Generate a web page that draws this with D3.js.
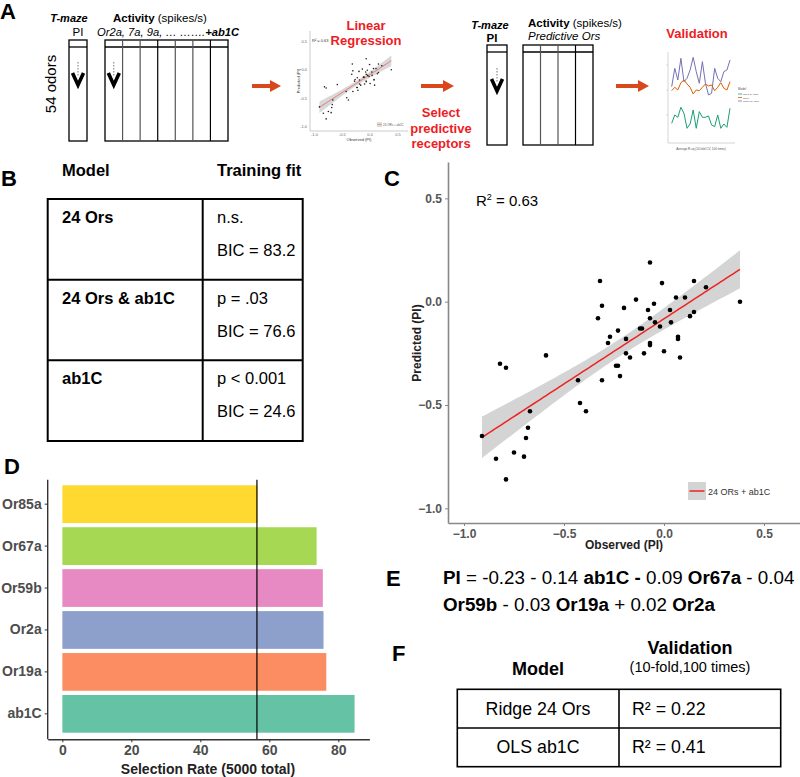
<!DOCTYPE html>
<html><head><meta charset="utf-8">
<script src="https://cdn.jsdelivr.net/npm/d3@7"></script>
<style>body{margin:0;background:#fff}svg{display:block}text{font-family:"Liberation Sans",Arial,sans-serif}</style>
</head><body><svg id="fig" width="800" height="777"></svg>
<script>
// ---------- DATA ----------
const observed  = [-0.32,-0.31,-0.33,-0.23,-0.27,-0.28,-0.59,-0.07,-0.01,0.15,0.21,-0.14,0.06,0.105,-0.05,-0.20,-0.08,0.03,0.15,0.38,-0.07,0.13,-0.045,0.035,-0.12,-0.11,-0.02,-0.19,0.07,0.07,-0.07,-0.07,-0.19,0.00,-0.10,-0.17,0.08,-0.82,-0.79,-0.24,-0.23,-0.22,-0.43,-0.31,-0.42,-0.39,-0.67,-0.68,-0.91,-0.69,-0.84,-0.75,-0.70,-0.79];
const predicted = [0.10,-0.02,-0.08,-0.14,-0.17,-0.20,-0.26,0.19,0.09,0.10,0.07,0.01,0.02,0.02,-0.01,-0.03,-0.04,-0.04,-0.05,0.00,-0.08,-0.07,-0.10,-0.10,-0.13,-0.13,-0.12,-0.18,-0.17,-0.18,-0.20,-0.21,-0.25,-0.24,-0.25,-0.27,-0.27,-0.30,-0.32,-0.31,-0.31,-0.36,-0.38,-0.38,-0.49,-0.53,-0.53,-0.61,-0.65,-0.66,-0.76,-0.73,-0.75,-0.86];
const scatterTicks = [-1.0,-0.5,0.0,0.5];
const r2Label = "0.63";
const legendLabel = "24 ORs + ab1C";

const rateCategories = ["ab1C","Or19a","Or2a","Or59b","Or67a","Or85a"];
const rateValues = [84.7,76.5,75.7,75.5,73.7,56.6];
const rateColors = ["#66c2a5","#fc8d62","#8da0cb","#e78ac3","#a6d854","#ffd92f"];
const rateThreshold = 56.4;
const rateTicks = [0,20,40,60,80];

const tableBModels = ["24 Ors","24 Ors & ab1C","ab1C"];
const tableBFit = ["n.s.","p = .03","p < 0.001"];
const tableBBIC = ["BIC = 83.2","BIC = 76.6","BIC = 24.6"];

const tableFModels = ["Ridge 24 Ors","OLS ab1C"];
const tableFR2 = ["R\u00B2 = 0.22","R\u00B2 = 0.41"];

const valPurple = [1.40,1.95,1.60,2.25,1.55,1.65,1.90,2.28,1.85,1.50,2.15,1.50,1.15,1.20,1.95,1.65,1.55,1.85,1.90,2.20];
const valOrange = [1.28,1.38,1.30,1.52,1.60,1.48,1.38,1.18,1.30,1.28,1.38,1.48,1.42,1.45,1.28,1.38,1.52,1.35,1.30,1.55];
const valGreen  = [0.30,0.55,0.48,0.78,0.60,0.15,0.28,0.70,0.15,0.65,0.48,0.48,0.52,0.25,0.20,0.55,0.15,0.28,0.18,0.75];
const valColors = ["#7570b3","#d95f02","#1b9e77"];

const activityCols1 = 7, activityCols2 = 4;

// ---------- SETUP ----------
const svg = d3.select("#fig");
const FONT = '"Liberation Sans",Arial,sans-serif';
const RED = "#ee1c25", ARROW = "#d9481c";
const pts = observed.map((x,i)=>({x, y: predicted[i]}));

function txt(g, x, y, s, o={}) {
  const t = g.append("text").attr("x",x).attr("y",y).text(s)
    .attr("font-size", o.size||12).attr("font-weight", o.weight||"normal")
    .attr("fill", o.fill||"#000").attr("text-anchor", o.anchor||"start");
  if (o.style) t.attr("font-style", o.style);
  return t;
}
function rich(g, x, y, parts, size, anchor) {
  const t = g.append("text").attr("x",x).attr("y",y).attr("font-size",size).attr("text-anchor",anchor||"start").attr("xml:space","preserve");
  parts.forEach(p => t.append("tspan").text(p[0]).attr("font-weight", p[1].includes("b")?"bold":"normal").attr("font-style", p[1].includes("i")?"italic":"normal"));
  return t;
}
function arrow(g, x0, x1, y) {
  g.append("line").attr("x1",x0).attr("x2",x1-9).attr("y1",y).attr("y2",y).attr("stroke",ARROW).attr("stroke-width",4);
  g.append("path").attr("d",`M${x1-11},${y-6}L${x1},${y}L${x1-11},${y+6}Z`).attr("fill",ARROW);
}
function chevron(g, cx, top) {
  g.append("line").attr("x1",cx).attr("x2",cx).attr("y1",top).attr("y2",top+15).attr("stroke","#777").attr("stroke-width",1).attr("stroke-dasharray","1.5,1.5");
  g.append("path").attr("d",`M${cx-5.5},${top+11}L${cx},${top+23}L${cx+5.5},${top+11}`).attr("fill","none").attr("stroke","#000").attr("stroke-width",3.6);
}

// ---------- REGRESSION (OLS + 95% CI) ----------
const n = pts.length;
const mx = d3.mean(observed), my = d3.mean(predicted);
const sxx = d3.sum(observed, x => (x-mx)**2);
const sxy = d3.sum(pts, p => (p.x-mx)*(p.y-my));
const slope = sxy/sxx, icpt = my - slope*mx;
const sres = Math.sqrt(d3.sum(pts, p => (p.y - icpt - slope*p.x)**2)/(n-2));
const tval = 2.0066;
const [xmin, xmax] = d3.extent(observed);
const band = d3.range(0, 81).map(i => {
  const x = xmin + (xmax-xmin)*i/80;
  const f = icpt + slope*x;
  const se = sres*Math.sqrt(1/n + (x-mx)**2/sxx);
  return {x, f, lo: f - tval*se, hi: f + tval*se};
});

// ---------- PANEL A ----------
const A = svg.append("g");
txt(A, 0, 19, "A", {size:22, weight:"bold"});
txt(A, 69, 22, "T-maze", {size:11, weight:"bold", style:"italic", anchor:"middle"});
txt(A, 78, 36, "PI", {size:11.5, anchor:"middle"});
rich(A, 113, 22, [["Activity","b"],[" (spikes/s)",""]], 11.5);
rich(A, 97, 36, [["Or2a, 7a, 9a, \u2026 \u2026\u2026.","i"],["+ab1C","bi"]], 11.2);
A.append("text").attr("transform","translate(56,84) rotate(-90)").attr("text-anchor","middle").attr("font-size",15).text("54 odors");

function columns(g, x0, x1, nc, top, head, bottom) {
  const xs = d3.scaleLinear().domain([0,nc]).range([x0,x1]);
  g.append("rect").attr("x",x0).attr("y",top).attr("width",x1-x0).attr("height",bottom-top).attr("fill","none").attr("stroke","#000").attr("stroke-width",1.3);
  g.append("line").attr("x1",x0).attr("x2",x1).attr("y1",head).attr("y2",head).attr("stroke","#000").attr("stroke-width",1.3);
  d3.range(1,nc).forEach(i => g.append("line").attr("x1",xs(i)).attr("x2",xs(i)).attr("y1",top).attr("y2",bottom).attr("stroke", i%3===0?"#000":"#555").attr("stroke-width",1.2));
  return xs;
}
columns(A, 69, 87, 1, 40, 47, 141);
const xs1 = columns(A, 105, 228, activityCols1, 40, 47, 141);
chevron(A, 78, 62);
chevron(A, xs1(0.5), 62);
arrow(A, 252, 281, 86);

// mini scatter
const mx0 = d3.scaleLinear().domain([-1.08,0.68]).range([310,408]);
const my0 = d3.scaleLinear().domain([0.676,-1.071]).range([31,131]);
A.append("path").datum(band).attr("fill","#d8d8d8").attr("d", d3.area().x(d=>mx0(d.x)).y0(d=>my0(d.lo)).y1(d=>my0(d.hi)));
A.append("path").datum(band).attr("fill","none").attr("stroke","#e87070").attr("stroke-width",1).attr("d", d3.line().x(d=>mx0(d.x)).y(d=>my0(d.f)));
A.selectAll(".mp").data(pts).join("circle").attr("cx",d=>mx0(d.x)).attr("cy",d=>my0(d.y)).attr("r",0.8).attr("fill","#222");
A.append("line").attr("x1",mx0.range()[0]).attr("x2",mx0.range()[0]).attr("y1",31).attr("y2",131).attr("stroke","#aaa").attr("stroke-width",0.6);
A.append("line").attr("x1",mx0.range()[0]).attr("x2",408).attr("y1",131).attr("y2",131).attr("stroke","#aaa").attr("stroke-width",0.6);
scatterTicks.forEach(t => {
  txt(A, 307, my0(t)+1.5, t.toFixed(1), {size:4, anchor:"end", fill:"#666"});
  txt(A, mx0(t), 136, t.toFixed(1), {size:4, anchor:"middle", fill:"#666"});
});
txt(A, 312, 42, "R\u00B2 = " + r2Label, {size:4, fill:"#333"});
txt(A, 359, 141, "Observed (PI)", {size:4, anchor:"middle", fill:"#333"});
A.append("text").attr("transform","translate(300,81) rotate(-90)").attr("text-anchor","middle").attr("font-size",4).attr("fill","#333").text("Predicted (PI)");
A.append("rect").attr("x",377).attr("y",122).attr("width",5).attr("height",5).attr("fill","#ddd");
A.append("line").attr("x1",377).attr("x2",382).attr("y1",124.5).attr("y2",124.5).attr("stroke","#e87070").attr("stroke-width",0.6);
txt(A, 383, 126, legendLabel, {size:3, fill:"#555"});
txt(A, 366, 30, "Linear", {size:13, weight:"bold", fill:RED, anchor:"middle"});
txt(A, 366, 45, "Regression", {size:13, weight:"bold", fill:RED, anchor:"middle"});

arrow(A, 421, 454, 86);
txt(A, 441, 117, "Select", {size:13, weight:"bold", fill:RED, anchor:"middle"});
txt(A, 441, 132.5, "predictive", {size:13, weight:"bold", fill:RED, anchor:"middle"});
txt(A, 441, 148, "receptors", {size:13, weight:"bold", fill:RED, anchor:"middle"});

txt(A, 490, 29, "T-maze", {size:11, weight:"bold", style:"italic", anchor:"middle"});
txt(A, 492, 42, "PI", {size:11.5, weight:"bold", anchor:"middle"});
columns(A, 487, 507, 1, 45, 52, 145);
chevron(A, 497, 68);
rich(A, 528, 27, [["Activity","b"],[" (spikes/s)",""]], 11.5);
rich(A, 528, 40, [["Predictive Ors","i"]], 11.5);
columns(A, 523, 593, activityCols2, 45, 52, 145);

arrow(A, 616, 649, 86);
txt(A, 697, 38, "Validation", {size:13, weight:"bold", fill:RED, anchor:"middle"});
// mini validation chart
const vx = d3.scaleLinear().domain([0, valPurple.length-1]).range([671.7, 730]);
const vy = d3.scaleLinear().domain([0,4]).range([133.3, 0]);
A.append("line").attr("x1",668).attr("x2",668).attr("y1",52).attr("y2",143).attr("stroke","#bbb").attr("stroke-width",0.6);
A.append("line").attr("x1",668).attr("x2",735).attr("y1",143).attr("y2",143).attr("stroke","#bbb").attr("stroke-width",0.6);
[valPurple, valOrange, valGreen].forEach((s,k) => {
  A.append("path").datum(s).attr("fill","none").attr("stroke",valColors[k]).attr("stroke-width",1)
    .attr("d", d3.line().x((d,i)=>vx(i)).y(d=>vy(d)));
});
[2,1,0].forEach(t => A.append("line").attr("x1",666).attr("x2",668).attr("y1",vy(t*0.75+0.55)).attr("y2",vy(t*0.75+0.55)).attr("stroke","#bbb").attr("stroke-width",0.5));
txt(A, 738, 90, "Model", {size:3, fill:"#555"});
["ab1C 24 ORs","ab1C","Ridge 24 ORs"].forEach((s,k) => {
  A.append("line").attr("x1",738).attr("x2",742).attr("y1",94+k*3.5).attr("y2",94+k*3.5).attr("stroke",valColors[2-k]).attr("stroke-width",0.8);
  txt(A, 743, 95+k*3.5, s, {size:2.5, fill:"#555"});
});
txt(A, 701, 150, "Average R-sq (10-fold CV, 100 times)", {size:3, anchor:"middle", fill:"#555"});

// ---------- PANEL B ----------
const B = svg.append("g");
txt(B, 1, 186, "B", {size:22, weight:"bold"});
txt(B, 62, 176, "Model", {size:16.5, weight:"bold"});
txt(B, 217, 176, "Training fit", {size:16.5, weight:"bold"});
const rowY = d3.scaleLinear().domain([0,3]).range([199,441]);
B.append("rect").attr("x",47.7).attr("y",199).attr("width",255).attr("height",242).attr("fill","none").attr("stroke","#000").attr("stroke-width",2);
B.append("line").attr("x1",202.7).attr("x2",202.7).attr("y1",199).attr("y2",441).attr("stroke","#000").attr("stroke-width",2);
[1,2].forEach(i => B.append("line").attr("x1",47.7).attr("x2",302.7).attr("y1",rowY(i)).attr("y2",rowY(i)).attr("stroke","#000").attr("stroke-width",2));
tableBModels.forEach((m,i) => {
  const y0 = rowY(i);
  txt(B, 62, y0+24, m, {size:16.5, weight:"bold"});
  txt(B, 217, y0+24, tableBFit[i], {size:16.5});
  txt(B, 217, y0+57, tableBBIC[i], {size:16.5});
});

// ---------- PANEL C ----------
const C = svg.append("g");
const cx = d3.scaleLinear().domain([-1.08,0.68]).range([448,800]);
const cy = d3.scaleLinear().domain([0.676,-1.071]).range([162,523]);
txt(C, 384, 186, "C", {size:22, weight:"bold"});
C.append("path").datum(band).attr("fill","#d4d4d4").attr("d", d3.area().x(d=>cx(d.x)).y0(d=>cy(d.lo)).y1(d=>cy(d.hi)));
C.append("path").datum(band).attr("fill","none").attr("stroke","#ee2222").attr("stroke-width",1.5).attr("d", d3.line().x(d=>cx(d.x)).y(d=>cy(d.f)));
C.selectAll(".pt").data(pts).join("circle").attr("cx",d=>cx(d.x)).attr("cy",d=>cy(d.y)).attr("r",2.3).attr("fill","#000");
const axC = C.append("g").attr("transform","translate(0,523)").call(d3.axisBottom(cx).tickValues(scatterTicks).tickFormat(d3.format(".1f")).tickSize(3).tickSizeOuter(0));
const ayC = C.append("g").attr("transform","translate(448,0)").call(d3.axisLeft(cy).tickValues(scatterTicks).tickFormat(d3.format(".1f")).tickSize(3).tickSizeOuter(0));
[axC, ayC].forEach(a => {
  a.select(".domain").attr("stroke","#888").attr("stroke-width",1.6);
  a.selectAll(".tick line").attr("stroke","#888");
  a.selectAll(".tick text").attr("font-size",12).attr("font-weight","bold").attr("fill","#555").attr("font-family",FONT);
});
txt(C, 476, 206, "", {size:15}).call(t => { t.append("tspan").text("R"); t.append("tspan").text("2").attr("font-size",9).attr("dy",-6); t.append("tspan").text(" = " + r2Label).attr("dy",6); });
txt(C, 624, 549, "Observed (PI)", {size:12, weight:"bold", anchor:"middle", fill:"#222"});
C.append("text").attr("transform","translate(421,343) rotate(-90)").attr("text-anchor","middle").attr("font-size",12).attr("font-weight","bold").attr("fill","#222").text("Predicted (PI)");
C.append("rect").attr("x",688).attr("y",482).attr("width",18).attr("height",18).attr("fill","#d4d4d4");
C.append("line").attr("x1",689.5).attr("x2",704.5).attr("y1",491).attr("y2",491).attr("stroke","#ee2222").attr("stroke-width",1.5);
txt(C, 708, 494.5, legendLabel, {size:9, fill:"#333"});

// ---------- PANEL D ----------
const D = svg.append("g");
txt(D, 4, 474, "D", {size:22, weight:"bold"});
const dx = d3.scaleLinear().domain([-4.25,89]).range([47.7,369.4]);
const dy = d3.scaleBand().domain(rateCategories).range([734.8,483.2]).paddingInner(0.1).paddingOuter(0.05);
D.selectAll(".bar").data(rateCategories).join("rect")
  .attr("x", dx(0)).attr("y", d=>dy(d)).attr("height", dy.bandwidth())
  .attr("width", (d,i)=>dx(rateValues[i])-dx(0)).attr("fill",(d,i)=>rateColors[i]);
D.append("line").attr("x1",dx(rateThreshold)).attr("x2",dx(rateThreshold)).attr("y1",479.7).attr("y2",739.3).attr("stroke","#000").attr("stroke-width",1.2);
const axD = D.append("g").attr("transform","translate(0,739.3)").call(d3.axisBottom(dx).tickValues(rateTicks).tickSize(3).tickSizeOuter(0));
const ayD = D.append("g").attr("transform","translate(47.7,0)").call(d3.axisLeft(dy).tickSize(3).tickSizeOuter(0));
ayD.select(".domain").attr("d","M0,479.7V739.3");
[axD, ayD].forEach(a => {
  a.select(".domain").attr("stroke","#333").attr("stroke-width",1.4);
  a.selectAll(".tick line").attr("stroke","#333");
  a.selectAll(".tick text").attr("font-size",14).attr("font-weight","bold").attr("fill","#4d4d4d").attr("font-family",FONT);
});
txt(D, 208, 774, "Selection Rate (5000 total)", {size:14, weight:"bold", anchor:"middle", fill:"#222"});

// ---------- PANEL E ----------
const E = svg.append("g");
txt(E, 386, 586, "E", {size:22, weight:"bold"});
rich(E, 443, 584, [["PI","b"],[" = -0.23 - 0.14 ",""],["ab1C -","b"],[" 0.09 ",""],["Or67a","b"],[" - 0.04",""]], 18.8);
rich(E, 443, 611, [["Or59b","b"],[" - 0.03 ",""],["Or19a","b"],[" + 0.02 ",""],["Or2a","b"]], 18.8);

// ---------- PANEL F ----------
const F = svg.append("g");
txt(F, 392, 661, "F", {size:22, weight:"bold"});
txt(F, 690, 654, "Validation", {size:18, weight:"bold", anchor:"middle"});
txt(F, 690, 672, "(10-fold,100 times)", {size:14.5, anchor:"middle"});
txt(F, 538, 675, "Model", {size:18, weight:"bold", anchor:"middle"});
const fRow = d3.scaleLinear().domain([0,2]).range([689.3,766.7]);
F.append("rect").attr("x",457.3).attr("y",689.3).attr("width",323.4).attr("height",77.4).attr("fill","none").attr("stroke","#000").attr("stroke-width",1.6);
F.append("line").attr("x1",619).attr("x2",619).attr("y1",689.3).attr("y2",766.7).attr("stroke","#000").attr("stroke-width",1.6);
F.append("line").attr("x1",457.3).attr("x2",780.7).attr("y1",fRow(1)).attr("y2",fRow(1)).attr("stroke","#000").attr("stroke-width",1.6);
tableFModels.forEach((m,i) => {
  const yc = (fRow(i)+fRow(i+1))/2 + 6;
  txt(F, 538, yc, m, {size:17.8, anchor:"middle"});
  txt(F, 632, yc, tableFR2[i], {size:17.8});
});
</script></body></html>
